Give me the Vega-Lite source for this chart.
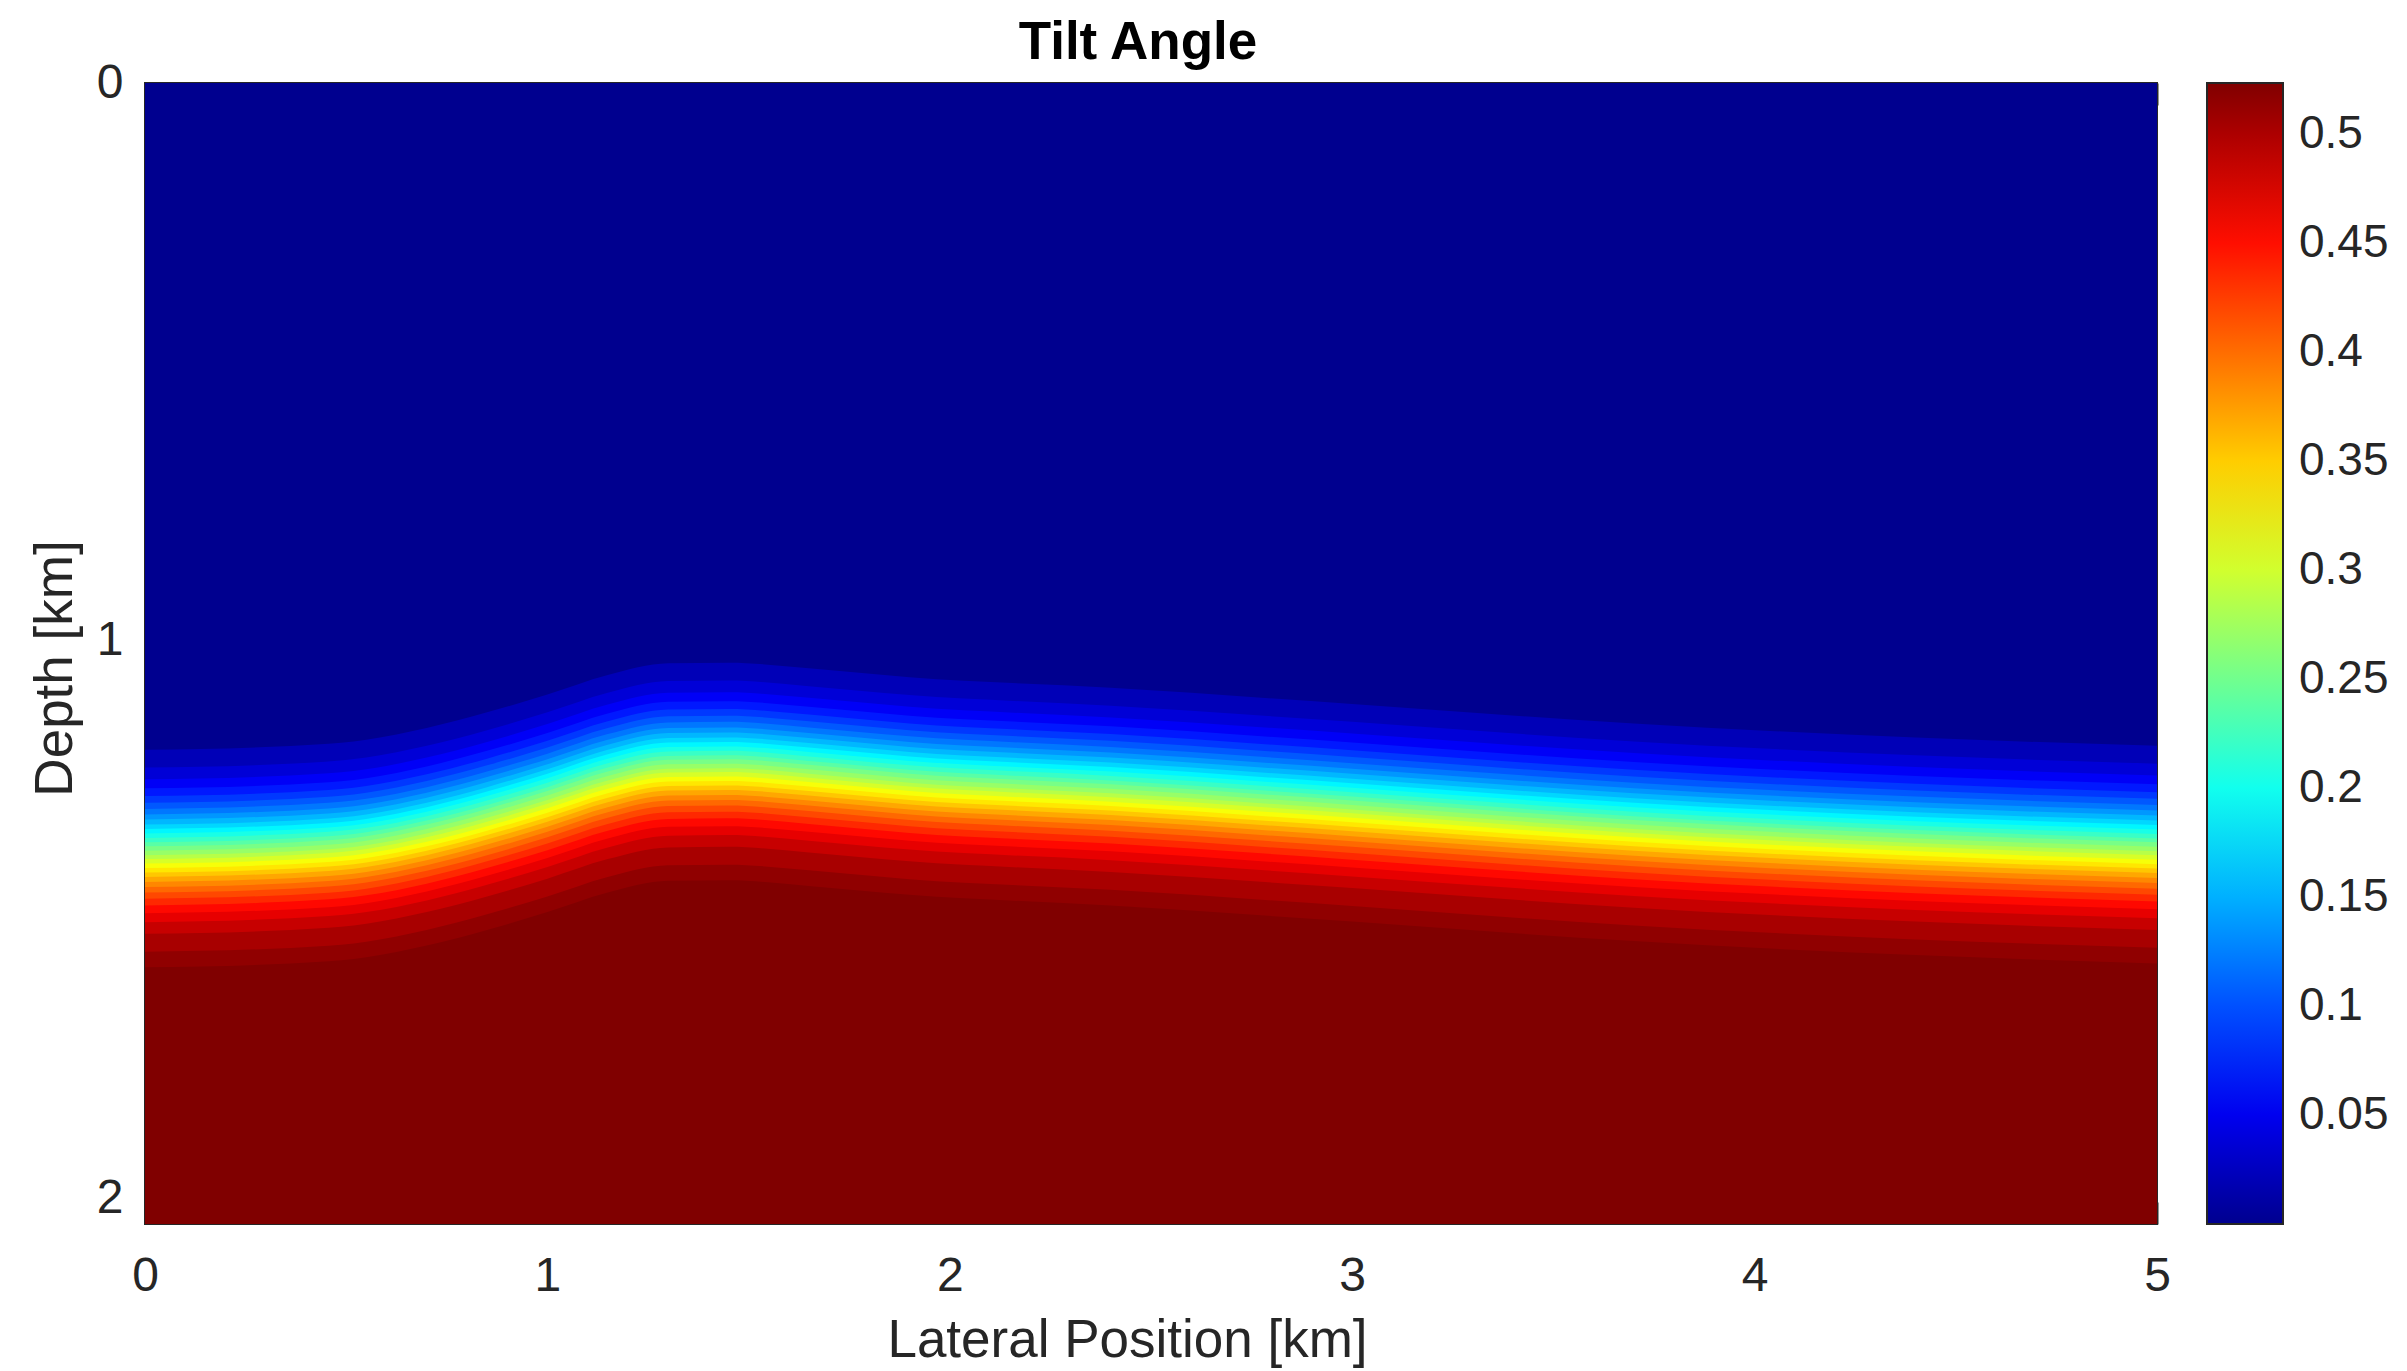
{
  "$schema": "https://vega.github.io/schema/vega-lite/v6.json",
  "width": 2012,
  "height": 1141,
  "autosize": {"type": "none"},
  "padding": {"left": 145, "top": 83, "right": 250, "bottom": 147},
  "background": "white",
  "title": {"text": "Tilt Angle", "font": "Liberation Sans", "fontSize": 53, "fontWeight": "bold", "color": "#000000", "anchor": "middle", "frame": "group", "baseline": "alphabetic", "offset": 14, "dy": 67, "dx": -13},
  "config": {
    "view": {"stroke": "#262626", "strokeWidth": 2},
    "axis": {"labelFont": "Liberation Sans", "titleFont": "Liberation Sans", "labelFontSize": 48, "titleFontSize": 53, "labelColor": "#262626", "titleColor": "#262626", "titleFontWeight": "normal", "tickColor": "#262626", "tickWidth": 2, "tickSize": -22, "domain": false, "grid": false, "labelFlush": false, "format": "~g"},
    "legend": {"labelFont": "Liberation Sans"}
  },
  "data": {"values": [
    {"x":0,"v":0,"d":0},
    {"x":0,"v":0.0208,"d":1.195},{"x":0,"v":0.0374,"d":1.227},{"x":0,"v":0.054,"d":1.248},{"x":0,"v":0.0706,"d":1.264},{"x":0,"v":0.0873,"d":1.278},{"x":0,"v":0.1039,"d":1.290},{"x":0,"v":0.1205,"d":1.301},{"x":0,"v":0.1371,"d":1.311},{"x":0,"v":0.1538,"d":1.320},{"x":0,"v":0.1704,"d":1.329},{"x":0,"v":0.187,"d":1.337},{"x":0,"v":0.2036,"d":1.345},{"x":0,"v":0.2202,"d":1.353},{"x":0,"v":0.2369,"d":1.361},{"x":0,"v":0.2535,"d":1.368},{"x":0,"v":0.2701,"d":1.376},{"x":0,"v":0.2867,"d":1.384},{"x":0,"v":0.3034,"d":1.391},{"x":0,"v":0.32,"d":1.399},{"x":0,"v":0.3366,"d":1.407},{"x":0,"v":0.3532,"d":1.415},{"x":0,"v":0.3698,"d":1.423},{"x":0,"v":0.3865,"d":1.432},{"x":0,"v":0.4031,"d":1.441},{"x":0,"v":0.4197,"d":1.451},{"x":0,"v":0.4363,"d":1.462},{"x":0,"v":0.453,"d":1.474},{"x":0,"v":0.4696,"d":1.488},{"x":0,"v":0.4862,"d":1.504},{"x":0,"v":0.5028,"d":1.525},{"x":0,"v":0.5153,"d":1.557},{"x":0,"v":0.5236,"d":1.585},
    {"x":0.3,"v":0.0208,"d":1.190},{"x":0.3,"v":0.0374,"d":1.222},{"x":0.3,"v":0.054,"d":1.243},{"x":0.3,"v":0.0706,"d":1.259},{"x":0.3,"v":0.0873,"d":1.273},{"x":0.3,"v":0.1039,"d":1.285},{"x":0.3,"v":0.1205,"d":1.296},{"x":0.3,"v":0.1371,"d":1.306},{"x":0.3,"v":0.1538,"d":1.315},{"x":0.3,"v":0.1704,"d":1.324},{"x":0.3,"v":0.187,"d":1.332},{"x":0.3,"v":0.2036,"d":1.340},{"x":0.3,"v":0.2202,"d":1.348},{"x":0.3,"v":0.2369,"d":1.356},{"x":0.3,"v":0.2535,"d":1.363},{"x":0.3,"v":0.2701,"d":1.371},{"x":0.3,"v":0.2867,"d":1.379},{"x":0.3,"v":0.3034,"d":1.386},{"x":0.3,"v":0.32,"d":1.394},{"x":0.3,"v":0.3366,"d":1.402},{"x":0.3,"v":0.3532,"d":1.410},{"x":0.3,"v":0.3698,"d":1.418},{"x":0.3,"v":0.3865,"d":1.427},{"x":0.3,"v":0.4031,"d":1.436},{"x":0.3,"v":0.4197,"d":1.446},{"x":0.3,"v":0.4363,"d":1.457},{"x":0.3,"v":0.453,"d":1.469},{"x":0.3,"v":0.4696,"d":1.483},{"x":0.3,"v":0.4862,"d":1.499},{"x":0.3,"v":0.5028,"d":1.520},{"x":0.3,"v":0.5153,"d":1.552},{"x":0.3,"v":0.5236,"d":1.580},
    {"x":0.55,"v":0.0208,"d":1.177},{"x":0.55,"v":0.0374,"d":1.209},{"x":0.55,"v":0.054,"d":1.230},{"x":0.55,"v":0.0706,"d":1.246},{"x":0.55,"v":0.0873,"d":1.260},{"x":0.55,"v":0.1039,"d":1.272},{"x":0.55,"v":0.1205,"d":1.283},{"x":0.55,"v":0.1371,"d":1.293},{"x":0.55,"v":0.1538,"d":1.302},{"x":0.55,"v":0.1704,"d":1.311},{"x":0.55,"v":0.187,"d":1.319},{"x":0.55,"v":0.2036,"d":1.327},{"x":0.55,"v":0.2202,"d":1.335},{"x":0.55,"v":0.2369,"d":1.343},{"x":0.55,"v":0.2535,"d":1.350},{"x":0.55,"v":0.2701,"d":1.358},{"x":0.55,"v":0.2867,"d":1.366},{"x":0.55,"v":0.3034,"d":1.373},{"x":0.55,"v":0.32,"d":1.381},{"x":0.55,"v":0.3366,"d":1.389},{"x":0.55,"v":0.3532,"d":1.397},{"x":0.55,"v":0.3698,"d":1.405},{"x":0.55,"v":0.3865,"d":1.414},{"x":0.55,"v":0.4031,"d":1.423},{"x":0.55,"v":0.4197,"d":1.433},{"x":0.55,"v":0.4363,"d":1.444},{"x":0.55,"v":0.453,"d":1.456},{"x":0.55,"v":0.4696,"d":1.470},{"x":0.55,"v":0.4862,"d":1.486},{"x":0.55,"v":0.5028,"d":1.507},{"x":0.55,"v":0.5153,"d":1.539},{"x":0.55,"v":0.5236,"d":1.567},
    {"x":0.7,"v":0.0208,"d":1.156},{"x":0.7,"v":0.0374,"d":1.188},{"x":0.7,"v":0.054,"d":1.209},{"x":0.7,"v":0.0706,"d":1.225},{"x":0.7,"v":0.0873,"d":1.239},{"x":0.7,"v":0.1039,"d":1.251},{"x":0.7,"v":0.1205,"d":1.262},{"x":0.7,"v":0.1371,"d":1.272},{"x":0.7,"v":0.1538,"d":1.281},{"x":0.7,"v":0.1704,"d":1.290},{"x":0.7,"v":0.187,"d":1.298},{"x":0.7,"v":0.2036,"d":1.306},{"x":0.7,"v":0.2202,"d":1.314},{"x":0.7,"v":0.2369,"d":1.322},{"x":0.7,"v":0.2535,"d":1.329},{"x":0.7,"v":0.2701,"d":1.337},{"x":0.7,"v":0.2867,"d":1.345},{"x":0.7,"v":0.3034,"d":1.352},{"x":0.7,"v":0.32,"d":1.360},{"x":0.7,"v":0.3366,"d":1.368},{"x":0.7,"v":0.3532,"d":1.376},{"x":0.7,"v":0.3698,"d":1.384},{"x":0.7,"v":0.3865,"d":1.393},{"x":0.7,"v":0.4031,"d":1.402},{"x":0.7,"v":0.4197,"d":1.412},{"x":0.7,"v":0.4363,"d":1.423},{"x":0.7,"v":0.453,"d":1.435},{"x":0.7,"v":0.4696,"d":1.449},{"x":0.7,"v":0.4862,"d":1.465},{"x":0.7,"v":0.5028,"d":1.486},{"x":0.7,"v":0.5153,"d":1.518},{"x":0.7,"v":0.5236,"d":1.546},
    {"x":0.85,"v":0.0208,"d":1.128},{"x":0.85,"v":0.0374,"d":1.160},{"x":0.85,"v":0.054,"d":1.181},{"x":0.85,"v":0.0706,"d":1.197},{"x":0.85,"v":0.0873,"d":1.211},{"x":0.85,"v":0.1039,"d":1.223},{"x":0.85,"v":0.1205,"d":1.234},{"x":0.85,"v":0.1371,"d":1.244},{"x":0.85,"v":0.1538,"d":1.253},{"x":0.85,"v":0.1704,"d":1.262},{"x":0.85,"v":0.187,"d":1.270},{"x":0.85,"v":0.2036,"d":1.278},{"x":0.85,"v":0.2202,"d":1.286},{"x":0.85,"v":0.2369,"d":1.294},{"x":0.85,"v":0.2535,"d":1.301},{"x":0.85,"v":0.2701,"d":1.309},{"x":0.85,"v":0.2867,"d":1.317},{"x":0.85,"v":0.3034,"d":1.324},{"x":0.85,"v":0.32,"d":1.332},{"x":0.85,"v":0.3366,"d":1.340},{"x":0.85,"v":0.3532,"d":1.348},{"x":0.85,"v":0.3698,"d":1.356},{"x":0.85,"v":0.3865,"d":1.365},{"x":0.85,"v":0.4031,"d":1.374},{"x":0.85,"v":0.4197,"d":1.384},{"x":0.85,"v":0.4363,"d":1.395},{"x":0.85,"v":0.453,"d":1.407},{"x":0.85,"v":0.4696,"d":1.421},{"x":0.85,"v":0.4862,"d":1.437},{"x":0.85,"v":0.5028,"d":1.458},{"x":0.85,"v":0.5153,"d":1.490},{"x":0.85,"v":0.5236,"d":1.518},
    {"x":1.0,"v":0.0208,"d":1.096},{"x":1.0,"v":0.0374,"d":1.128},{"x":1.0,"v":0.054,"d":1.149},{"x":1.0,"v":0.0706,"d":1.165},{"x":1.0,"v":0.0873,"d":1.179},{"x":1.0,"v":0.1039,"d":1.191},{"x":1.0,"v":0.1205,"d":1.202},{"x":1.0,"v":0.1371,"d":1.212},{"x":1.0,"v":0.1538,"d":1.221},{"x":1.0,"v":0.1704,"d":1.230},{"x":1.0,"v":0.187,"d":1.238},{"x":1.0,"v":0.2036,"d":1.246},{"x":1.0,"v":0.2202,"d":1.254},{"x":1.0,"v":0.2369,"d":1.262},{"x":1.0,"v":0.2535,"d":1.269},{"x":1.0,"v":0.2701,"d":1.277},{"x":1.0,"v":0.2867,"d":1.285},{"x":1.0,"v":0.3034,"d":1.292},{"x":1.0,"v":0.32,"d":1.300},{"x":1.0,"v":0.3366,"d":1.308},{"x":1.0,"v":0.3532,"d":1.316},{"x":1.0,"v":0.3698,"d":1.324},{"x":1.0,"v":0.3865,"d":1.333},{"x":1.0,"v":0.4031,"d":1.342},{"x":1.0,"v":0.4197,"d":1.352},{"x":1.0,"v":0.4363,"d":1.363},{"x":1.0,"v":0.453,"d":1.375},{"x":1.0,"v":0.4696,"d":1.389},{"x":1.0,"v":0.4862,"d":1.405},{"x":1.0,"v":0.5028,"d":1.426},{"x":1.0,"v":0.5153,"d":1.458},{"x":1.0,"v":0.5236,"d":1.486},
    {"x":1.15,"v":0.0208,"d":1.061},{"x":1.15,"v":0.0374,"d":1.093},{"x":1.15,"v":0.054,"d":1.114},{"x":1.15,"v":0.0706,"d":1.130},{"x":1.15,"v":0.0873,"d":1.144},{"x":1.15,"v":0.1039,"d":1.156},{"x":1.15,"v":0.1205,"d":1.167},{"x":1.15,"v":0.1371,"d":1.177},{"x":1.15,"v":0.1538,"d":1.186},{"x":1.15,"v":0.1704,"d":1.195},{"x":1.15,"v":0.187,"d":1.203},{"x":1.15,"v":0.2036,"d":1.211},{"x":1.15,"v":0.2202,"d":1.219},{"x":1.15,"v":0.2369,"d":1.227},{"x":1.15,"v":0.2535,"d":1.234},{"x":1.15,"v":0.2701,"d":1.242},{"x":1.15,"v":0.2867,"d":1.250},{"x":1.15,"v":0.3034,"d":1.257},{"x":1.15,"v":0.32,"d":1.265},{"x":1.15,"v":0.3366,"d":1.273},{"x":1.15,"v":0.3532,"d":1.281},{"x":1.15,"v":0.3698,"d":1.289},{"x":1.15,"v":0.3865,"d":1.298},{"x":1.15,"v":0.4031,"d":1.307},{"x":1.15,"v":0.4197,"d":1.317},{"x":1.15,"v":0.4363,"d":1.328},{"x":1.15,"v":0.453,"d":1.340},{"x":1.15,"v":0.4696,"d":1.354},{"x":1.15,"v":0.4862,"d":1.370},{"x":1.15,"v":0.5028,"d":1.391},{"x":1.15,"v":0.5153,"d":1.423},{"x":1.15,"v":0.5236,"d":1.451},
    {"x":1.3,"v":0.0208,"d":1.040},{"x":1.3,"v":0.0374,"d":1.072},{"x":1.3,"v":0.054,"d":1.093},{"x":1.3,"v":0.0706,"d":1.109},{"x":1.3,"v":0.0873,"d":1.123},{"x":1.3,"v":0.1039,"d":1.135},{"x":1.3,"v":0.1205,"d":1.146},{"x":1.3,"v":0.1371,"d":1.156},{"x":1.3,"v":0.1538,"d":1.165},{"x":1.3,"v":0.1704,"d":1.174},{"x":1.3,"v":0.187,"d":1.182},{"x":1.3,"v":0.2036,"d":1.190},{"x":1.3,"v":0.2202,"d":1.198},{"x":1.3,"v":0.2369,"d":1.206},{"x":1.3,"v":0.2535,"d":1.213},{"x":1.3,"v":0.2701,"d":1.221},{"x":1.3,"v":0.2867,"d":1.229},{"x":1.3,"v":0.3034,"d":1.236},{"x":1.3,"v":0.32,"d":1.244},{"x":1.3,"v":0.3366,"d":1.252},{"x":1.3,"v":0.3532,"d":1.260},{"x":1.3,"v":0.3698,"d":1.268},{"x":1.3,"v":0.3865,"d":1.277},{"x":1.3,"v":0.4031,"d":1.286},{"x":1.3,"v":0.4197,"d":1.296},{"x":1.3,"v":0.4363,"d":1.307},{"x":1.3,"v":0.453,"d":1.319},{"x":1.3,"v":0.4696,"d":1.333},{"x":1.3,"v":0.4862,"d":1.349},{"x":1.3,"v":0.5028,"d":1.370},{"x":1.3,"v":0.5153,"d":1.402},{"x":1.3,"v":0.5236,"d":1.430},
    {"x":1.45,"v":0.0208,"d":1.039},{"x":1.45,"v":0.0374,"d":1.071},{"x":1.45,"v":0.054,"d":1.092},{"x":1.45,"v":0.0706,"d":1.108},{"x":1.45,"v":0.0873,"d":1.122},{"x":1.45,"v":0.1039,"d":1.134},{"x":1.45,"v":0.1205,"d":1.145},{"x":1.45,"v":0.1371,"d":1.155},{"x":1.45,"v":0.1538,"d":1.164},{"x":1.45,"v":0.1704,"d":1.173},{"x":1.45,"v":0.187,"d":1.181},{"x":1.45,"v":0.2036,"d":1.189},{"x":1.45,"v":0.2202,"d":1.197},{"x":1.45,"v":0.2369,"d":1.205},{"x":1.45,"v":0.2535,"d":1.212},{"x":1.45,"v":0.2701,"d":1.220},{"x":1.45,"v":0.2867,"d":1.228},{"x":1.45,"v":0.3034,"d":1.235},{"x":1.45,"v":0.32,"d":1.243},{"x":1.45,"v":0.3366,"d":1.251},{"x":1.45,"v":0.3532,"d":1.259},{"x":1.45,"v":0.3698,"d":1.267},{"x":1.45,"v":0.3865,"d":1.276},{"x":1.45,"v":0.4031,"d":1.285},{"x":1.45,"v":0.4197,"d":1.295},{"x":1.45,"v":0.4363,"d":1.306},{"x":1.45,"v":0.453,"d":1.318},{"x":1.45,"v":0.4696,"d":1.332},{"x":1.45,"v":0.4862,"d":1.348},{"x":1.45,"v":0.5028,"d":1.369},{"x":1.45,"v":0.5153,"d":1.401},{"x":1.45,"v":0.5236,"d":1.429},
    {"x":1.65,"v":0.0208,"d":1.049},{"x":1.65,"v":0.0374,"d":1.081},{"x":1.65,"v":0.054,"d":1.102},{"x":1.65,"v":0.0706,"d":1.118},{"x":1.65,"v":0.0873,"d":1.132},{"x":1.65,"v":0.1039,"d":1.144},{"x":1.65,"v":0.1205,"d":1.155},{"x":1.65,"v":0.1371,"d":1.165},{"x":1.65,"v":0.1538,"d":1.174},{"x":1.65,"v":0.1704,"d":1.183},{"x":1.65,"v":0.187,"d":1.191},{"x":1.65,"v":0.2036,"d":1.199},{"x":1.65,"v":0.2202,"d":1.207},{"x":1.65,"v":0.2369,"d":1.215},{"x":1.65,"v":0.2535,"d":1.222},{"x":1.65,"v":0.2701,"d":1.230},{"x":1.65,"v":0.2867,"d":1.238},{"x":1.65,"v":0.3034,"d":1.245},{"x":1.65,"v":0.32,"d":1.253},{"x":1.65,"v":0.3366,"d":1.261},{"x":1.65,"v":0.3532,"d":1.269},{"x":1.65,"v":0.3698,"d":1.277},{"x":1.65,"v":0.3865,"d":1.286},{"x":1.65,"v":0.4031,"d":1.295},{"x":1.65,"v":0.4197,"d":1.305},{"x":1.65,"v":0.4363,"d":1.316},{"x":1.65,"v":0.453,"d":1.328},{"x":1.65,"v":0.4696,"d":1.342},{"x":1.65,"v":0.4862,"d":1.358},{"x":1.65,"v":0.5028,"d":1.379},{"x":1.65,"v":0.5153,"d":1.411},{"x":1.65,"v":0.5236,"d":1.439},
    {"x":1.9,"v":0.0208,"d":1.065},{"x":1.9,"v":0.0374,"d":1.097},{"x":1.9,"v":0.054,"d":1.118},{"x":1.9,"v":0.0706,"d":1.134},{"x":1.9,"v":0.0873,"d":1.148},{"x":1.9,"v":0.1039,"d":1.160},{"x":1.9,"v":0.1205,"d":1.171},{"x":1.9,"v":0.1371,"d":1.181},{"x":1.9,"v":0.1538,"d":1.190},{"x":1.9,"v":0.1704,"d":1.199},{"x":1.9,"v":0.187,"d":1.207},{"x":1.9,"v":0.2036,"d":1.215},{"x":1.9,"v":0.2202,"d":1.223},{"x":1.9,"v":0.2369,"d":1.231},{"x":1.9,"v":0.2535,"d":1.238},{"x":1.9,"v":0.2701,"d":1.246},{"x":1.9,"v":0.2867,"d":1.254},{"x":1.9,"v":0.3034,"d":1.261},{"x":1.9,"v":0.32,"d":1.269},{"x":1.9,"v":0.3366,"d":1.277},{"x":1.9,"v":0.3532,"d":1.285},{"x":1.9,"v":0.3698,"d":1.293},{"x":1.9,"v":0.3865,"d":1.302},{"x":1.9,"v":0.4031,"d":1.311},{"x":1.9,"v":0.4197,"d":1.321},{"x":1.9,"v":0.4363,"d":1.332},{"x":1.9,"v":0.453,"d":1.344},{"x":1.9,"v":0.4696,"d":1.358},{"x":1.9,"v":0.4862,"d":1.374},{"x":1.9,"v":0.5028,"d":1.395},{"x":1.9,"v":0.5153,"d":1.427},{"x":1.9,"v":0.5236,"d":1.455},
    {"x":2.4,"v":0.0208,"d":1.084},{"x":2.4,"v":0.0374,"d":1.116},{"x":2.4,"v":0.054,"d":1.137},{"x":2.4,"v":0.0706,"d":1.153},{"x":2.4,"v":0.0873,"d":1.167},{"x":2.4,"v":0.1039,"d":1.179},{"x":2.4,"v":0.1205,"d":1.190},{"x":2.4,"v":0.1371,"d":1.200},{"x":2.4,"v":0.1538,"d":1.209},{"x":2.4,"v":0.1704,"d":1.218},{"x":2.4,"v":0.187,"d":1.226},{"x":2.4,"v":0.2036,"d":1.234},{"x":2.4,"v":0.2202,"d":1.242},{"x":2.4,"v":0.2369,"d":1.250},{"x":2.4,"v":0.2535,"d":1.257},{"x":2.4,"v":0.2701,"d":1.265},{"x":2.4,"v":0.2867,"d":1.273},{"x":2.4,"v":0.3034,"d":1.280},{"x":2.4,"v":0.32,"d":1.288},{"x":2.4,"v":0.3366,"d":1.296},{"x":2.4,"v":0.3532,"d":1.304},{"x":2.4,"v":0.3698,"d":1.312},{"x":2.4,"v":0.3865,"d":1.321},{"x":2.4,"v":0.4031,"d":1.330},{"x":2.4,"v":0.4197,"d":1.340},{"x":2.4,"v":0.4363,"d":1.351},{"x":2.4,"v":0.453,"d":1.363},{"x":2.4,"v":0.4696,"d":1.377},{"x":2.4,"v":0.4862,"d":1.393},{"x":2.4,"v":0.5028,"d":1.414},{"x":2.4,"v":0.5153,"d":1.446},{"x":2.4,"v":0.5236,"d":1.474},
    {"x":3.0,"v":0.0208,"d":1.113},{"x":3.0,"v":0.0374,"d":1.145},{"x":3.0,"v":0.054,"d":1.166},{"x":3.0,"v":0.0706,"d":1.182},{"x":3.0,"v":0.0873,"d":1.196},{"x":3.0,"v":0.1039,"d":1.208},{"x":3.0,"v":0.1205,"d":1.219},{"x":3.0,"v":0.1371,"d":1.229},{"x":3.0,"v":0.1538,"d":1.238},{"x":3.0,"v":0.1704,"d":1.247},{"x":3.0,"v":0.187,"d":1.255},{"x":3.0,"v":0.2036,"d":1.263},{"x":3.0,"v":0.2202,"d":1.271},{"x":3.0,"v":0.2369,"d":1.279},{"x":3.0,"v":0.2535,"d":1.286},{"x":3.0,"v":0.2701,"d":1.294},{"x":3.0,"v":0.2867,"d":1.302},{"x":3.0,"v":0.3034,"d":1.309},{"x":3.0,"v":0.32,"d":1.317},{"x":3.0,"v":0.3366,"d":1.325},{"x":3.0,"v":0.3532,"d":1.333},{"x":3.0,"v":0.3698,"d":1.341},{"x":3.0,"v":0.3865,"d":1.350},{"x":3.0,"v":0.4031,"d":1.359},{"x":3.0,"v":0.4197,"d":1.369},{"x":3.0,"v":0.4363,"d":1.380},{"x":3.0,"v":0.453,"d":1.392},{"x":3.0,"v":0.4696,"d":1.406},{"x":3.0,"v":0.4862,"d":1.422},{"x":3.0,"v":0.5028,"d":1.443},{"x":3.0,"v":0.5153,"d":1.475},{"x":3.0,"v":0.5236,"d":1.503},
    {"x":3.7,"v":0.0208,"d":1.148},{"x":3.7,"v":0.0374,"d":1.180},{"x":3.7,"v":0.054,"d":1.201},{"x":3.7,"v":0.0706,"d":1.217},{"x":3.7,"v":0.0873,"d":1.231},{"x":3.7,"v":0.1039,"d":1.243},{"x":3.7,"v":0.1205,"d":1.254},{"x":3.7,"v":0.1371,"d":1.264},{"x":3.7,"v":0.1538,"d":1.273},{"x":3.7,"v":0.1704,"d":1.282},{"x":3.7,"v":0.187,"d":1.290},{"x":3.7,"v":0.2036,"d":1.298},{"x":3.7,"v":0.2202,"d":1.306},{"x":3.7,"v":0.2369,"d":1.314},{"x":3.7,"v":0.2535,"d":1.321},{"x":3.7,"v":0.2701,"d":1.329},{"x":3.7,"v":0.2867,"d":1.337},{"x":3.7,"v":0.3034,"d":1.344},{"x":3.7,"v":0.32,"d":1.352},{"x":3.7,"v":0.3366,"d":1.360},{"x":3.7,"v":0.3532,"d":1.368},{"x":3.7,"v":0.3698,"d":1.376},{"x":3.7,"v":0.3865,"d":1.385},{"x":3.7,"v":0.4031,"d":1.394},{"x":3.7,"v":0.4197,"d":1.404},{"x":3.7,"v":0.4363,"d":1.415},{"x":3.7,"v":0.453,"d":1.427},{"x":3.7,"v":0.4696,"d":1.441},{"x":3.7,"v":0.4862,"d":1.457},{"x":3.7,"v":0.5028,"d":1.478},{"x":3.7,"v":0.5153,"d":1.510},{"x":3.7,"v":0.5236,"d":1.538},
    {"x":4.4,"v":0.0208,"d":1.173},{"x":4.4,"v":0.0374,"d":1.205},{"x":4.4,"v":0.054,"d":1.226},{"x":4.4,"v":0.0706,"d":1.242},{"x":4.4,"v":0.0873,"d":1.256},{"x":4.4,"v":0.1039,"d":1.268},{"x":4.4,"v":0.1205,"d":1.279},{"x":4.4,"v":0.1371,"d":1.289},{"x":4.4,"v":0.1538,"d":1.298},{"x":4.4,"v":0.1704,"d":1.307},{"x":4.4,"v":0.187,"d":1.315},{"x":4.4,"v":0.2036,"d":1.323},{"x":4.4,"v":0.2202,"d":1.331},{"x":4.4,"v":0.2369,"d":1.339},{"x":4.4,"v":0.2535,"d":1.346},{"x":4.4,"v":0.2701,"d":1.354},{"x":4.4,"v":0.2867,"d":1.362},{"x":4.4,"v":0.3034,"d":1.369},{"x":4.4,"v":0.32,"d":1.377},{"x":4.4,"v":0.3366,"d":1.385},{"x":4.4,"v":0.3532,"d":1.393},{"x":4.4,"v":0.3698,"d":1.401},{"x":4.4,"v":0.3865,"d":1.410},{"x":4.4,"v":0.4031,"d":1.419},{"x":4.4,"v":0.4197,"d":1.429},{"x":4.4,"v":0.4363,"d":1.440},{"x":4.4,"v":0.453,"d":1.452},{"x":4.4,"v":0.4696,"d":1.466},{"x":4.4,"v":0.4862,"d":1.482},{"x":4.4,"v":0.5028,"d":1.503},{"x":4.4,"v":0.5153,"d":1.535},{"x":4.4,"v":0.5236,"d":1.563},
    {"x":5,"v":0,"d":0},
    {"x":5,"v":0.0208,"d":1.188},{"x":5,"v":0.0374,"d":1.220},{"x":5,"v":0.054,"d":1.241},{"x":5,"v":0.0706,"d":1.257},{"x":5,"v":0.0873,"d":1.271},{"x":5,"v":0.1039,"d":1.283},{"x":5,"v":0.1205,"d":1.294},{"x":5,"v":0.1371,"d":1.304},{"x":5,"v":0.1538,"d":1.313},{"x":5,"v":0.1704,"d":1.322},{"x":5,"v":0.187,"d":1.330},{"x":5,"v":0.2036,"d":1.338},{"x":5,"v":0.2202,"d":1.346},{"x":5,"v":0.2369,"d":1.354},{"x":5,"v":0.2535,"d":1.361},{"x":5,"v":0.2701,"d":1.369},{"x":5,"v":0.2867,"d":1.377},{"x":5,"v":0.3034,"d":1.384},{"x":5,"v":0.32,"d":1.392},{"x":5,"v":0.3366,"d":1.400},{"x":5,"v":0.3532,"d":1.408},{"x":5,"v":0.3698,"d":1.416},{"x":5,"v":0.3865,"d":1.425},{"x":5,"v":0.4031,"d":1.434},{"x":5,"v":0.4197,"d":1.444},{"x":5,"v":0.4363,"d":1.455},{"x":5,"v":0.453,"d":1.467},{"x":5,"v":0.4696,"d":1.481},{"x":5,"v":0.4862,"d":1.497},{"x":5,"v":0.5028,"d":1.518},{"x":5,"v":0.5153,"d":1.550},{"x":5,"v":0.5236,"d":1.578}
  ]},
  "layer": [
    {
      "mark": {"type": "area", "interpolate": "monotone", "clip": true},
      "encoding": {
        "x": {"field": "x", "type": "quantitative", "scale": {"domain": [0, 5], "nice": false, "zero": false},
              "axis": {"orient": "bottom", "values": [0, 1, 2, 3, 4, 5], "title": "Lateral Position [km]", "labelPadding": 50, "titlePadding": 14, "titleX": 982}},
        "y": {"field": "d", "type": "quantitative", "stack": null, "scale": {"domain": [0, 2.045], "reverse": true, "nice": false, "zero": false},
              "axis": {"orient": "left", "values": [0, 1, 2], "title": "Depth [km]", "labelPadding": 44, "titlePadding": 14, "titleY": 585}},
        "y2": {"datum": 2.045},
        "color": {"field": "v", "type": "quantitative",
                  "scale": {"domain": [0, 0.0582, 0.1912, 0.3241, 0.4571, 0.5236], "range": ["#00008f", "#0000ff", "#00ffff", "#ffff00", "#ff0000", "#800000"], "interpolate": "rgb"},
                  "legend": {"orient": "none", "legendX": 2062, "legendY": 0, "direction": "vertical", "gradientLength": 1141, "gradientThickness": 76, "title": null,
                             "values": [0.05, 0.1, 0.15, 0.2, 0.25, 0.3, 0.35, 0.4, 0.45, 0.5], "format": "~g", "labelFontSize": 46, "labelColor": "#262626", "labelOffset": 16, "labelOverlap": false,
                             "gradientStrokeColor": "#262626", "gradientStrokeWidth": 2, "padding": 0}}
      }
    },
    {
      "mark": {"type": "point", "opacity": 0},
      "encoding": {
        "x": {"field": "x", "type": "quantitative", "axis": {"orient": "top", "values": [0, 1, 2, 3, 4, 5], "labels": false, "title": null}},
        "y": {"field": "d", "type": "quantitative", "axis": {"orient": "right", "values": [0, 1, 2], "labels": false, "title": null}}
      }
    }
  ],
  "resolve": {"axis": {"x": "independent", "y": "independent"}}
}
